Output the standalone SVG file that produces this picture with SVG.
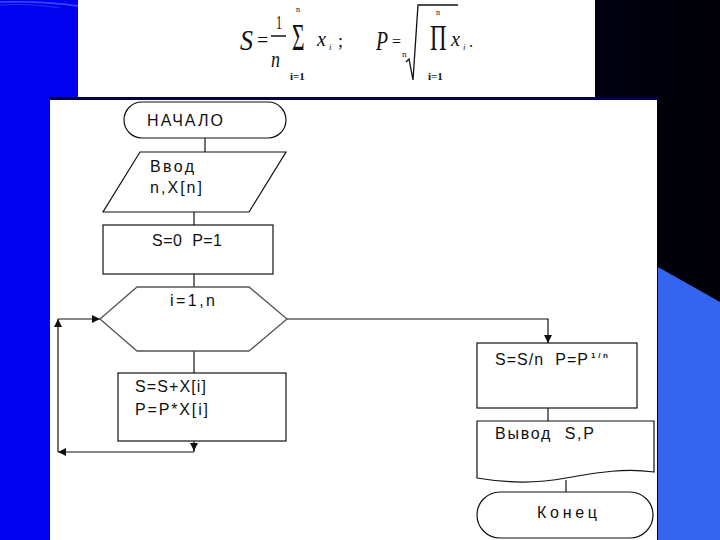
<svg xmlns="http://www.w3.org/2000/svg" width="720" height="540" viewBox="0 0 720 540">
<style>
.shape{fill:#fff;stroke:#111;stroke-width:1.2}
.hex{fill:#fff;stroke:#555;stroke-width:1.3}
.con{fill:none;stroke:#111;stroke-width:1.2}
.t{font-family:"Liberation Sans",Arial,sans-serif;font-size:16px;fill:#111;white-space:pre}
.m{font-family:"Liberation Serif","Times New Roman",serif;fill:#111}
.mi{font-family:"Liberation Serif","Times New Roman",serif;font-style:italic;fill:#111}
</style>
<defs>
<linearGradient id="navy" x1="0" y1="0" x2="1" y2="0">
<stop offset="0" stop-color="#00004c"/>
<stop offset="1" stop-color="#000006"/>
</linearGradient>
<marker id="ah" viewBox="0 0 10 10" refX="10" refY="5" markerWidth="9" markerHeight="8" markerUnits="userSpaceOnUse" orient="auto">
<path d="M0,0 L10,5 L0,10 z" fill="#111"/>
</marker>
</defs>
<!-- background -->
<rect x="0" y="0" width="720" height="540" fill="url(#navy)"/>
<polygon points="0,0 78,0 78,97 50,97 50,540 0,540" fill="#0202f0"/>
<path d="M0,2 Q40,1 78,6" fill="none" stroke="#6a7cff" stroke-width="1.5" opacity="0.6"/>
<path d="M0,5 Q30,3 60,8" fill="none" stroke="#4a5cff" stroke-width="1" opacity="0.5"/>
<rect x="78" y="0" width="517" height="97" fill="#fff"/>
<rect x="50" y="97" width="607" height="3" fill="#00004e"/>
<rect x="50" y="100" width="607" height="440" fill="#fff"/>
<polygon points="658,267 720,302 720,540 658,540" fill="#3464f0"/>
<!-- formulas -->
<g id="formula">
<text class="mi" x="240" y="50" font-size="30" textLength="13" lengthAdjust="spacingAndGlyphs">S</text>
<text class="m" x="257" y="47" font-size="20">=</text>
<text class="m" x="276" y="29" font-size="18" textLength="6" lengthAdjust="spacingAndGlyphs">1</text>
<line x1="271" y1="36" x2="286" y2="36" stroke="#111" stroke-width="1.5"/>
<text class="mi" x="271" y="67" font-size="24" textLength="9" lengthAdjust="spacingAndGlyphs">n</text>
<text class="m" transform="matrix(0.9,0,0,1.6,292,50)" font-size="24">Σ</text>
<text class="m" x="296" y="12" font-size="8">n</text>
<text class="m" x="290" y="80" font-size="11" font-weight="bold">i=1</text>
<text class="mi" x="317" y="46" font-size="22" textLength="9" lengthAdjust="spacingAndGlyphs">x</text>
<text class="mi" x="329" y="50" font-size="9">i</text>
<text class="m" x="338" y="47" font-size="18">;</text>
<text class="mi" x="376" y="50" font-size="28" textLength="12" lengthAdjust="spacingAndGlyphs">P</text>
<text class="m" x="392" y="47" font-size="16">=</text>
<text class="m" x="402" y="57" font-size="9">n</text>
<path d="M406,62 L409,59 L413,80 L418,5 L458,5" fill="none" stroke="#111" stroke-width="1.3"/>
<text class="m" transform="matrix(0.95,0,0,1.5,430,50)" font-size="24">Π</text>
<text class="m" x="436" y="15" font-size="8">n</text>
<text class="m" x="428" y="80" font-size="11" font-weight="bold">i=1</text>
<text class="mi" x="451" y="46" font-size="22" textLength="9" lengthAdjust="spacingAndGlyphs">x</text>
<text class="mi" x="463" y="50" font-size="9">i</text>
<text class="m" x="469" y="47" font-size="16">.</text>
</g>
<!-- connectors -->
<g id="connectors">
<line class="con" x1="205" y1="138" x2="205" y2="152"/>
<line class="con" x1="194" y1="212" x2="194" y2="225"/>
<line class="con" x1="194" y1="274" x2="194" y2="287"/>
<line class="con" x1="194" y1="351" x2="194" y2="373"/>
<line class="con" x1="194" y1="441" x2="194" y2="451" marker-end="url(#ah)"/>
<line class="con" x1="194" y1="450" x2="194" y2="452"/>
<line class="con" x1="194" y1="452" x2="58" y2="452" marker-end="url(#ah)"/>
<line class="con" x1="58" y1="452" x2="58" y2="319" marker-end="url(#ah)"/>
<line class="con" x1="58" y1="319" x2="100" y2="319" marker-end="url(#ah)"/>
<polyline class="con" points="287,319 548,319 548,343" marker-end="url(#ah)"/>
<line class="con" x1="548" y1="408" x2="548" y2="421"/>
<line class="con" x1="566" y1="480" x2="566" y2="492"/>
</g>
<!-- nodes -->
<g id="start">
<rect class="shape" x="124" y="102" width="162" height="36" rx="18" ry="18"/>
<text class="t" x="147" y="126" textLength="76" lengthAdjust="spacing">НАЧАЛО</text>
</g>
<g id="input">
<polygon class="shape" points="140,152 286,152 249,212 103,212"/>
<text class="t" x="150" y="172" textLength="44" lengthAdjust="spacing">Ввод</text>
<text class="t" x="150" y="193" textLength="52" lengthAdjust="spacing">n,X[n]</text>
</g>
<g id="init">
<rect class="shape" x="103" y="225" width="170" height="49"/>
<text class="t" x="152" y="246" textLength="70" lengthAdjust="spacing">S=0  P=1</text>
</g>
<g id="loop">
<polygon class="hex" points="100,319 137,287 249,287 287,319 249,351 137,351"/>
<text class="t" x="170" y="306" textLength="45" lengthAdjust="spacing">i=1,n</text>
</g>
<g id="body">
<rect class="shape" x="118" y="373" width="168" height="68"/>
<text class="t" x="135" y="392" textLength="71" lengthAdjust="spacing">S=S+X[i]</text>
<text class="t" x="135" y="415" textLength="73" lengthAdjust="spacing">P=P*X[i]</text>
</g>
<g id="calc">
<rect class="shape" x="477" y="343" width="160" height="65"/>
<text class="t" x="495" y="365" textLength="93" lengthAdjust="spacing">S=S/n  P=P</text>
<text class="t" x="591" y="358" style="font-size:8px;font-weight:bold" textLength="17" lengthAdjust="spacing">1/n</text>
</g>
<g id="output">
<path class="shape" d="M477,421 H654 V472 C625,468 600,472 566,478 C540,483 512,484 477,478 Z"/>
<text class="t" x="495" y="439" textLength="99" lengthAdjust="spacing">Вывод  S,P</text>
</g>
<g id="end">
<rect class="shape" x="477" y="492" width="176" height="46" rx="23" ry="23"/>
<text class="t" x="537" y="518" textLength="60" lengthAdjust="spacing">Конец</text>
</g>
</svg>
